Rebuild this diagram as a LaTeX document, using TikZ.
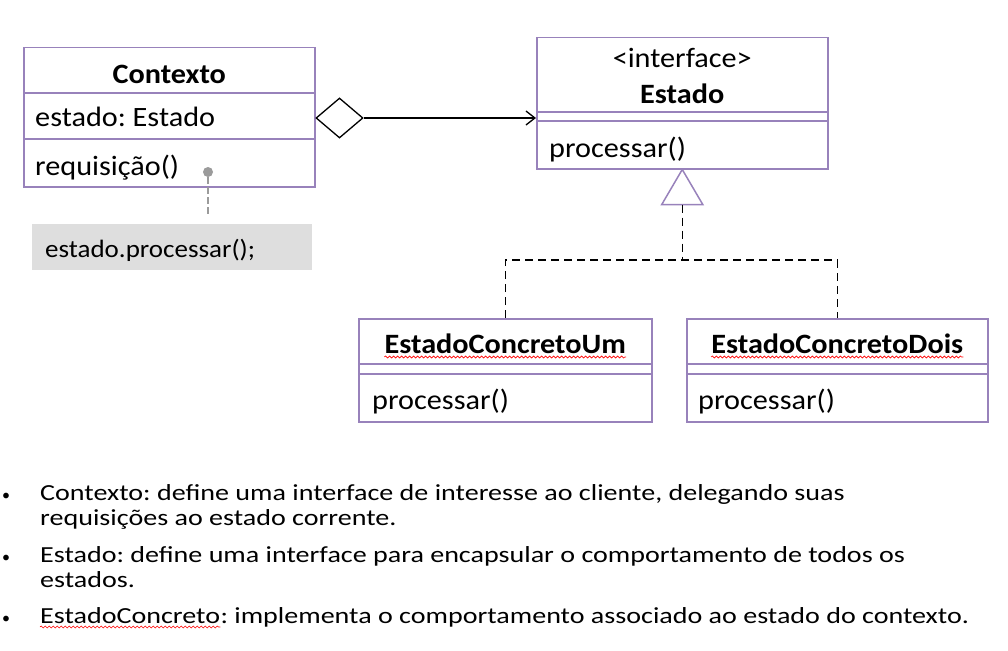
\documentclass[tikz,border=0pt]{standalone}
\usepackage{fontspec}
\setmainfont{Carlito}
\newfontfamily\boxfont{Carlito}[FakeStretch=1.08]
\newfontfamily\listfont{Carlito}[FakeStretch=1.22]
\frenchspacing
\usetikzlibrary{shapes.geometric}
\usetikzlibrary{arrows.meta}
\usetikzlibrary{decorations.pathmorphing}

\definecolor{umlpurple}{RGB}{152,130,187}
\definecolor{notegray}{RGB}{222,222,222}
\definecolor{pingray}{RGB}{155,155,155}

\tikzset{
  classbox/.style={draw=umlpurple, line width=1.5pt, fill=white, inner sep=0pt, anchor=north west},
  classline/.style={draw=umlpurple, line width=1.5pt},
  boxtxt/.style={font=\boxfont\fontsize{28}{30}\selectfont, inner sep=0pt},
  boxbold/.style={font=\boxfont\fontsize{28}{30}\selectfont\bfseries, inner sep=0pt},
  bullettxt/.style={font=\listfont\fontsize{23}{25}\selectfont, inner sep=0pt, anchor=base west},
  realize/.style={line width=1.5pt, dash pattern=on 8pt off 5pt},
  spell/.style={red, line width=0.6pt, decorate, decoration={snake, segment length=4pt, amplitude=1pt}},
}

\begin{document}
\begin{tikzpicture}[x=1pt,y=-1pt]
  \useasboundingbox (0,0) rectangle (1008,650);

  % class boxes
  \node[classbox, minimum width=291pt, minimum height=139pt] (ctx) at (23,47) {};
  \node[classbox, minimum width=291pt, minimum height=131pt] (estado) at (536,37) {};
  \node[classbox, minimum width=293pt, minimum height=103pt] (um) at (358,318) {};
  \node[classbox, minimum width=301pt, minimum height=103pt] (dois) at (686,318) {};

  % compartments
  \draw[classline] (ctx.west |- 0,93) -- (ctx.east |- 0,93);
  \draw[classline] (ctx.west |- 0,139) -- (ctx.east |- 0,139);
  \draw[classline] (estado.west |- 0,112) -- (estado.east |- 0,112);
  \draw[classline] (estado.west |- 0,121) -- (estado.east |- 0,121);
  \foreach \b in {um,dois} {
    \draw[classline] (\b.west |- 0,364) -- (\b.east |- 0,364);
    \draw[classline] (\b.west |- 0,374) -- (\b.east |- 0,374);
  }

  % texts
  \node[boxbold, anchor=base] (ctxname) at (ctx.center |- 0,84) {Contexto};
  \node[boxtxt, anchor=base west] (ctxattr) at (35,127) {estado: Estado};
  \node[boxtxt, anchor=base west] (ctxop) at (35,175) {requisição()};

  \node[boxtxt, anchor=base] (stereo) at (estado.center |- 0,68) {<interface>};
  \node[boxbold, anchor=base] (estname) at (estado.center |- 0,103) {Estado};
  \node[boxtxt, anchor=base west] (estop) at (549,157) {processar()};

  \node[boxbold, anchor=base] (umname) at (um.center |- 0,353) {EstadoConcretoUm};
  \node[boxtxt, anchor=base west] (umop) at (372,409) {processar()};
  \node[boxbold, anchor=base] (doisname) at (dois.center |- 0,353) {EstadoConcretoDois};
  \node[boxtxt, anchor=base west] (doisop) at (698,409) {processar()};

  \draw[spell] ([yshift=-4pt]umname.base west) -- ([yshift=-4pt]umname.base east);
  \draw[spell] ([yshift=-4pt]doisname.base west) -- ([yshift=-4pt]doisname.base east);

  % note
  \node[fill=notegray, minimum width=280pt, minimum height=46pt, anchor=north west, inner sep=0pt] (note) at (32,224) {};
  \node[font=\boxfont\fontsize{25}{27}\selectfont, anchor=base west, inner sep=0pt] (notetxt) at (45,257) {estado.processar();};
  \node[circle, fill=pingray, inner sep=0pt, minimum size=10pt] (pin) at (208,172) {};
  \coordinate (pinend) at (208,217);
  \draw[pingray, line width=2.5pt, dash pattern=on 7pt off 3pt] (pin) -- (pinend);

  % aggregation
  \node[diamond, draw, line width=1.3pt, fill=white, minimum width=47pt, minimum height=40pt, inner sep=0pt] (agg) at (339.5,118) {};
  \draw[line width=1.3pt, -{Straight Barb[length=9pt,width=14pt]}] (agg.east) -- (agg.east -| estado.west);

  % realization
  \draw[classline, fill=white] (estado.south) -- ++(20.5,35) -- ++(-41,0) -- cycle;
  \coordinate (tri) at ([yshift=-35pt]estado.south);
  \coordinate (junc) at (tri |- 0,260);
  \draw[realize] (tri) -- (junc);
  \draw[realize] (um.north) |- (junc) -| (dois.north);

  % bullets
  \foreach \y/\n in {500/1,562/2,623/3} {
    \node[bullettxt, font=\fontsize{16}{18}\selectfont] (dot\n) at (2,\y) {•};
  }
  \node[bullettxt] (ctxline) at (40,500) {Contexto: define uma interface de interesse ao cliente, delegando suas};
  \node[bullettxt] (ctxline2) at (40,525) {requisições ao estado corrente.};
  \node[bullettxt] (estline) at (40,562) {Estado: define uma interface para encapsular o comportamento de todos os};
  \node[bullettxt] (estline2) at (40,587) {estados.};
  \node[bullettxt] (concname) at (40,623) {EstadoConcreto};
  \node[bullettxt] (concline) at (concname.base east) {: implementa o comportamento associado ao estado do contexto.};
  \draw[spell] ([yshift=-4pt]concname.base west) -- ([yshift=-4pt]concname.base east);

\end{tikzpicture}
\end{document}
